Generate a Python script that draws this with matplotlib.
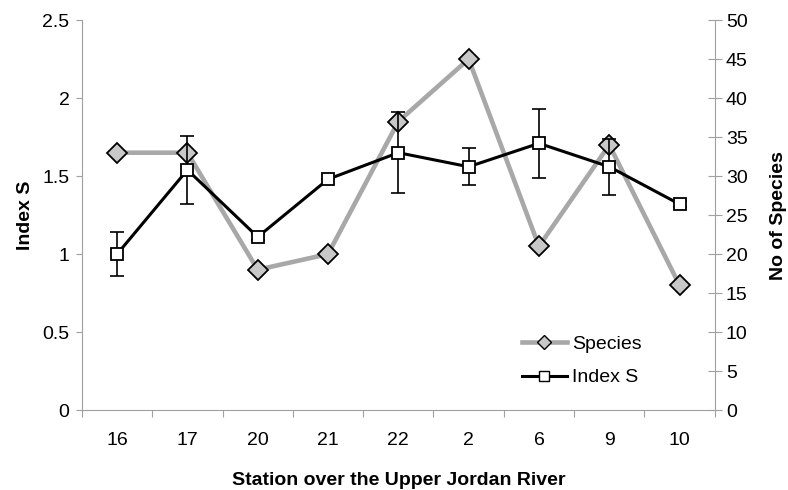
import numpy as np
import matplotlib.pyplot as plt
from matplotlib.lines import Line2D

plt.rcParams['font.family'] = ['Liberation Sans', 'DejaVu Sans']

# Stations along the river, in sampling order
stations = ['16', '17', '20', '21', '22', '2', '6', '9', '10']

# Number of species per station (right axis)
species = [33, 33, 18, 20, 37, 45, 21, 34, 16]

# Index S per station with its error (left axis)
index_s = [1.00, 1.54, 1.11, 1.48, 1.65, 1.56, 1.71, 1.56, 1.32]
index_err = [0.14, 0.22, 0.02, 0.0, 0.26, 0.12, 0.22, 0.18, 0.02]

GRID = '#a0a0a0'
FS = 14

fig = plt.figure(figsize=(7.88, 4.9), dpi=100)
ax = fig.add_axes([0.104, 0.163, 0.803, 0.796])
ax2 = ax.twinx()

x = np.arange(len(stations))

# species series sits underneath the index series
ax2.plot(x, species, color='#a8a8a8', lw=3.3, marker='D', ms=10,
         mfc='#c8c8c8', mec='black', mew=1.3, zorder=2)
ax.set_zorder(ax2.get_zorder() + 1)
ax.patch.set_visible(False)

ax.errorbar(x, index_s, yerr=index_err, fmt='none', ecolor='black',
            elinewidth=1.2, capsize=5, capthick=1.2, zorder=3)
ax.plot(x, index_s, color='black', lw=2.2, marker='s', ms=9,
        mfc='white', mec='black', mew=1.3, zorder=4)

ax.set_xlim(-0.5, len(stations) - 0.5)
ax.set_ylim(0, 2.5)
ax2.set_ylim(0, 50)

ax.set_yticks([0, 0.5, 1, 1.5, 2, 2.5])
ax.set_yticklabels(['0', '0.5', '1', '1.5', '2', '2.5'])
ax2.set_yticks(range(0, 51, 5))

# category ticks fall between the stations, labels sit on the stations
ax.set_xticks(np.arange(-0.5, len(stations), 1.0))
ax.set_xticklabels([])
ax.set_xticks(x, minor=True)
ax.set_xticklabels(stations, minor=True)
ax.tick_params(axis='x', which='minor', length=0, pad=16, labelsize=FS)
ax.tick_params(axis='x', which='major', length=5, color=GRID, direction='out')
ax.tick_params(axis='y', length=4, color=GRID, labelsize=FS, pad=5)
ax2.tick_params(axis='y', length=10, color=GRID, direction='inout',
                labelsize=FS, pad=3)

for a in (ax, ax2):
    a.spines['top'].set_visible(False)
    for side in ('left', 'right', 'bottom'):
        a.spines[side].set_color(GRID)
ax.spines['right'].set_visible(False)
ax2.spines['left'].set_visible(False)
ax2.spines['bottom'].set_visible(False)

ax.set_ylabel('Index S', fontsize=FS, fontweight='bold', labelpad=6)
ax2.set_ylabel('No of Species', fontsize=FS, fontweight='bold', labelpad=16)
ax.set_xlabel('Station over the Upper Jordan River', fontsize=FS,
              fontweight='bold', labelpad=16)

handles = [
    Line2D([], [], color='#a8a8a8', lw=3.3, marker='D', ms=7,
           mfc='#c8c8c8', mec='black', mew=1.0),
    Line2D([], [], color='black', lw=2.2, marker='s', ms=7,
           mfc='white', mec='black', mew=1.0),
]
ax.legend(handles, ['Species', 'Index S'], loc='lower left',
          bbox_to_anchor=(0.668, 0.016), frameon=False, fontsize=FS,
          handlelength=2.3, handletextpad=0.25, labelspacing=0.8)

fig.savefig('out.png', dpi=100)
